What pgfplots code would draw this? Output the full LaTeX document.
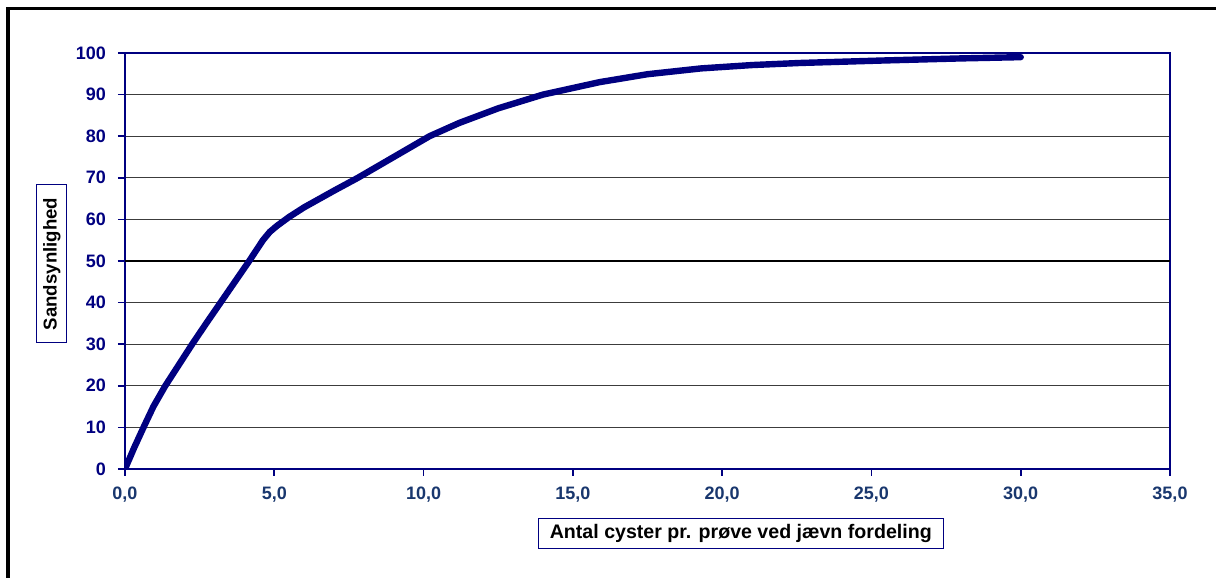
\documentclass[border=0pt]{standalone}
\usepackage{pgfplots}
\pgfplotsset{compat=1.18}
\usepackage{fontspec}
\setmainfont{Liberation Sans}
\definecolor{navy}{RGB}{0,0,128}
\definecolor{xlab}{RGB}{25,55,110}
\definecolor{gridc}{RGB}{60,60,60}
\begin{document}
\begin{tikzpicture}
\path[use as bounding box, fill=white] (-62.5pt,-54.5pt) rectangle (545.5pt,234.5pt);
\draw[black, line width=1.8pt] (-58.5pt,-80pt) -- (-58.5pt,230.3pt) -- (600pt,230.3pt);
\begin{axis}[
  at={(0pt,0pt)}, anchor=south west,
  scale only axis, width=522.5pt, height=208pt,
  xmin=0, xmax=35, ymin=0, ymax=100,
  xtick={0,5,...,35}, ytick={0,10,...,100},
  axis line style={navy, line width=1pt},
  tick style={navy, line width=0.8pt},
  tick align=outside, major tick length=3.5pt,
  xtick pos=bottom, ytick pos=left,
  ymajorgrids, grid style={gridc, line width=0.65pt},
  extra y ticks={50}, extra y tick labels={},
  extra y tick style={grid style={black, line width=0.9pt}},
  /pgf/number format/assume math mode=true,
  ticklabel style={font=\fontsize{9}{10}\selectfont\bfseries},
  yticklabel style={navy, xshift=-2.5pt},
  xticklabel style={xlab, yshift=-2pt, /pgf/number format/.cd, fixed, fixed zerofill, precision=1, use comma},
  yticklabel style={/pgf/number format/.cd, fixed, precision=0},
]
\addplot[navy, line width=3.2pt, line join=round, line cap=round] coordinates {
(0,0) (0.3,5) (0.62,10) (0.95,15) (1.35,20) (1.8,25) (2.25,30) (2.72,35)
(3.2,40) (3.68,45) (4.16,50) (4.62,55) (4.85,57) (5.1,58.5) (5.5,60.6) (6.0,62.9)
(7.0,66.9) (7.8,70) (9.0,75) (10.2,80) (11.2,83.2) (12.5,86.7) (14.0,90)
(15.9,93) (17.5,94.9) (19.3,96.3) (21.0,97.1) (22.6,97.6) (25.4,98.2)
(28.0,98.7) (30.0,99.0)
};
\end{axis}
\node[draw=navy, line width=0.5pt, rotate=90, minimum width=79pt, minimum height=15pt, inner sep=0pt,
  font=\fontsize{9.3}{10}\selectfont\bfseries] at (-36.6pt,102.5pt) {Sandsynlighed};
\node[draw=navy, line width=0.5pt, minimum width=202.5pt, minimum height=15.3pt, inner sep=0pt,
  font=\fontsize{9.8}{10}\selectfont\bfseries] at (307.9pt,-32.3pt) {Antal cyster pr. prøve ved jævn fordeling};
\end{tikzpicture}
\end{document}
